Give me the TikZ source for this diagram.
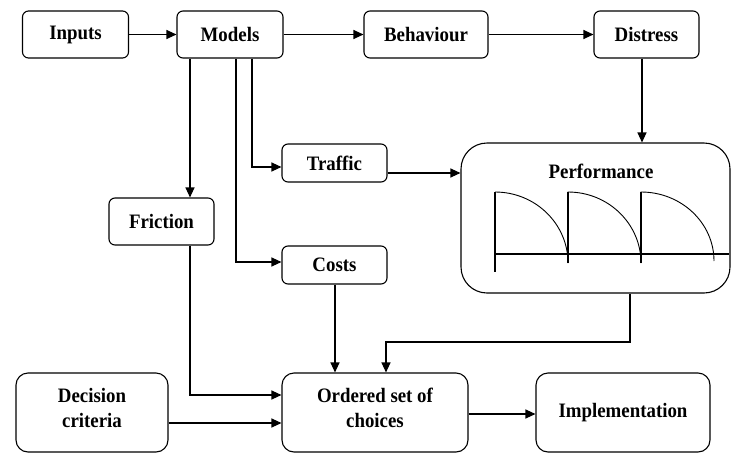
\documentclass[tikz,border=0pt]{standalone}
\usepackage{fontspec}
\setmainfont{Liberation Serif}[FakeStretch=0.92]
\usetikzlibrary{arrows.meta}

\begin{document}
\begin{tikzpicture}[x=1pt,y=-1pt,
  box/.style={draw, line width=1.1pt, rounded corners=6pt, inner sep=0pt,
    font=\fontsize{20.5}{25}\selectfont\bfseries, align=center},
  bigbox/.style={box, rounded corners=12pt},
  perfbox/.style={box, rounded corners=26pt},
  boxtext/.style={inner sep=0pt, font=\fontsize{20.5}{25}\selectfont\bfseries, align=center},
  wire/.style={line width=1.1pt},
  conn/.style={wire, -{Triangle[length=10pt,width=9pt]}},
  axis/.style={line width=1.2pt},
  curve/.style={line width=0.9pt}
]
\useasboundingbox (0,0) rectangle (731,453);

% top row
\node[box, minimum width=106pt, minimum height=47pt] (inputs) at (75.5,34.5) {Inputs};
\node[box, minimum width=106pt, minimum height=47pt] (models) at (230,34.5) {Models};
\node[box, minimum width=124pt, minimum height=47pt] (behaviour) at (426,34.5) {Behaviour};
\node[box, minimum width=105pt, minimum height=47pt] (distress) at (646.5,34.5) {Distress};

% middle boxes
\node[box, minimum width=105pt, minimum height=38pt] (traffic) at (334.5,163) {Traffic};
\node[box, minimum width=105pt, minimum height=47pt] (friction) at (161.5,221.5) {Friction};
\node[box, minimum width=105pt, minimum height=38pt] (costs) at (334.5,265) {Costs};

% performance panel with its plot
\node[perfbox, minimum width=269pt, minimum height=150pt] (perf) at (595.5,218) {};
\node[boxtext] (perf-t) at (601,171) {Performance};
\draw[axis] (495,192) -- (495,272);
\draw[axis] (495,254) -- (729,254);
\draw[curve] (495,192) arc[start angle=-90, end angle=0, x radius=73, y radius=71]
  -- (568,192) arc[start angle=-90, end angle=0, x radius=73, y radius=71]
  -- (641,192) arc[start angle=-90, end angle=0, x radius=73, y radius=69];
\draw[axis] (568,192) -- (568,263);
\draw[axis] (641,192) -- (641,263);

% bottom row
\node[bigbox, minimum width=152pt, minimum height=79pt] (decision) at (92,412.5) {};
\node[boxtext] (decision-t) at (92,408) {Decision\\criteria};
\node[bigbox, minimum width=186pt, minimum height=79pt] (ordered) at (375,412.5) {};
\node[boxtext] (ordered-t) at (375,408) {Ordered set of\\choices};
\node[bigbox, minimum width=174pt, minimum height=79pt] (impl) at (623,412.5) {Implementation};

% tap columns below Models and bend points
\coordinate (xf) at (190,0);
\coordinate (xc) at (236,0);
\coordinate (xt) at (252,0);
\coordinate (xd) at (642,0);
\coordinate (xk) at (335,0);
\coordinate (pdown) at (630,342);
\coordinate (pleft) at (386,342);

% connectors
\draw[conn] (inputs) -- (models);
\draw[conn] (models) -- (behaviour);
\draw[conn] (behaviour) -- (distress);
\draw[conn] (distress.south -| xd) -- (perf.north -| xd);
\draw[conn] (models.south -| xf) -- (friction.north -| xf);
\draw[conn] (models.south -| xt) |- (traffic.west |- 0,167);
\draw[conn] (models.south -| xc) |- (costs.west |- 0,262);
\draw[conn] (traffic.east |- 0,173) -- (perf.west |- 0,173);
\draw[conn] (costs.south -| xk) -- (ordered.north -| xk);
\draw[conn] (perf.south -| pdown) -- (pdown) -- (pleft) -- (ordered.north -| pleft);
\draw[conn] (friction.south -| xf) |- (ordered.west |- 0,395);
\draw[conn] (decision.east |- 0,423) -- (ordered.west |- 0,423);
\draw[conn] (ordered.east |- 0,414) -- (impl.west |- 0,414);
\end{tikzpicture}
\end{document}
